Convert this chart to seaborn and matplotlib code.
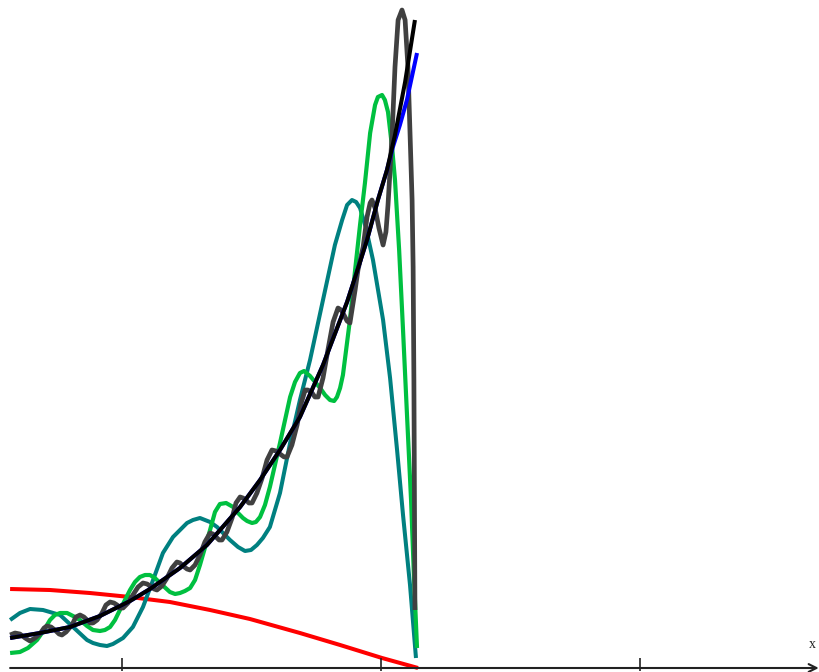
import numpy as np
import pandas as pd
import seaborn as sns
import matplotlib.pyplot as plt

# values (x in tick units, ticks at 1, 2, 3)
tick_pos = [1, 2, 3]

red_x = [0.568, 0.722, 0.876, 1.031, 1.185, 1.340, 1.494, 1.687, 1.842, 2.004, 2.143]
red_y = [0.79, 0.78, 0.75, 0.71, 0.66, 0.58, 0.49, 0.35, 0.23, 0.10, 0.00]

teal_x = [0.568, 0.606, 0.645, 0.695, 0.761, 0.811, 0.865, 0.888, 0.915, 0.942,
          0.965, 1.004, 1.042, 1.081, 1.120, 1.158, 1.197, 1.251, 1.274, 1.301,
          1.340, 1.367, 1.417, 1.448, 1.475, 1.498, 1.521, 1.544, 1.571, 1.610,
          1.649, 1.687, 1.726, 1.776, 1.822, 1.850, 1.869, 1.888, 1.904, 1.919,
          1.942, 1.969, 2.008, 2.035, 2.062, 2.085, 2.112, 2.135]
teal_y = [0.48, 0.55, 0.59, 0.58, 0.53, 0.41, 0.28, 0.25, 0.23, 0.22,
          0.24, 0.30, 0.41, 0.61, 0.88, 1.15, 1.31, 1.45, 1.48, 1.50,
          1.46, 1.41, 1.28, 1.21, 1.17, 1.18, 1.23, 1.30, 1.41, 1.75,
          2.25, 2.68, 3.08, 3.68, 4.23, 4.48, 4.63, 4.68, 4.66, 4.60,
          4.40, 4.08, 3.48, 2.90, 2.18, 1.53, 0.83, 0.10]

green_x = [0.568, 0.606, 0.637, 0.672, 0.699, 0.722, 0.741, 0.761, 0.788, 0.811,
           0.838, 0.865, 0.888, 0.915, 0.934, 0.954, 0.973, 0.992, 1.031, 1.050,
           1.069, 1.089, 1.108, 1.127, 1.147, 1.185, 1.205, 1.224, 1.243, 1.263,
           1.282, 1.301, 1.320, 1.340, 1.359, 1.378, 1.402, 1.429, 1.448, 1.467,
           1.483, 1.502, 1.517, 1.533, 1.552, 1.571, 1.610, 1.649, 1.668, 1.687,
           1.703, 1.726, 1.765, 1.784, 1.803, 1.819, 1.830, 1.842, 1.853, 1.880,
           1.900, 1.919, 1.938, 1.958, 1.977, 1.988, 2.004, 2.015, 2.027, 2.043,
           2.054, 2.070, 2.085, 2.100, 2.116, 2.127, 2.139]
green_y = [0.15, 0.16, 0.20, 0.28, 0.38, 0.48, 0.53, 0.55, 0.55, 0.52,
           0.48, 0.42, 0.38, 0.37, 0.38, 0.41, 0.48, 0.58, 0.78, 0.86,
           0.91, 0.93, 0.93, 0.90, 0.85, 0.76, 0.74, 0.75, 0.77, 0.80,
           0.88, 1.03, 1.20, 1.38, 1.56, 1.64, 1.65, 1.61, 1.55, 1.50,
           1.47, 1.45, 1.46, 1.51, 1.63, 1.81, 2.25, 2.71, 2.86, 2.95,
           2.97, 2.92, 2.80, 2.73, 2.68, 2.67, 2.71, 2.80, 2.93, 3.48,
           3.98, 4.43, 4.85, 5.35, 5.63, 5.71, 5.73, 5.68, 5.56, 5.20,
           4.88, 4.18, 3.38, 2.55, 1.68, 0.93, 0.20]

gray_x = [0.568, 0.587, 0.606, 0.626, 0.645, 0.664, 0.683, 0.699, 0.710, 0.726,
          0.741, 0.757, 0.768, 0.784, 0.807, 0.822, 0.838, 0.853, 0.865, 0.876,
          0.888, 0.904, 0.923, 0.938, 0.954, 0.969, 0.981, 0.992, 1.004, 1.023,
          1.042, 1.062, 1.081, 1.097, 1.108, 1.124, 1.135, 1.154, 1.174, 1.193,
          1.212, 1.224, 1.236, 1.251, 1.263, 1.282, 1.301, 1.320, 1.340, 1.351,
          1.363, 1.375, 1.386, 1.405, 1.425, 1.440, 1.456, 1.467, 1.479, 1.490,
          1.502, 1.521, 1.541, 1.560, 1.579, 1.595, 1.610, 1.626, 1.637, 1.656,
          1.676, 1.691, 1.707, 1.718, 1.734, 1.745, 1.757, 1.776, 1.795, 1.815,
          1.834, 1.846, 1.857, 1.869, 1.880, 1.900, 1.911, 1.931, 1.946, 1.958,
          1.965, 1.977, 1.992, 2.008, 2.019, 2.027, 2.035, 2.043, 2.054, 2.066,
          2.081, 2.093, 2.104, 2.112, 2.120, 2.124, 2.127, 2.131]
gray_y = [0.33, 0.35, 0.34, 0.30, 0.27, 0.30, 0.34, 0.40, 0.42, 0.41,
          0.38, 0.34, 0.33, 0.36, 0.43, 0.51, 0.53, 0.51, 0.48, 0.45,
          0.45, 0.48, 0.55, 0.63, 0.66, 0.65, 0.63, 0.60, 0.60, 0.65,
          0.73, 0.81, 0.85, 0.84, 0.82, 0.79, 0.78, 0.82, 0.90, 1.00,
          1.06, 1.05, 1.02, 0.99, 0.98, 1.03, 1.13, 1.26, 1.35, 1.34,
          1.31, 1.28, 1.28, 1.36, 1.50, 1.65, 1.71, 1.70, 1.68, 1.65,
          1.65, 1.75, 1.90, 2.08, 2.18, 2.17, 2.14, 2.11, 2.11, 2.23,
          2.43, 2.64, 2.78, 2.78, 2.75, 2.71, 2.71, 2.90, 3.18, 3.46,
          3.60, 3.58, 3.53, 3.47, 3.45, 3.78, 3.98, 4.21, 4.51, 4.65,
          4.68, 4.60, 4.40, 4.23, 4.36, 4.63, 4.98, 5.35, 6.01, 6.48,
          6.58, 6.48, 6.01, 5.35, 4.68, 4.01, 2.88, 0.58]

blue_x = [0.568, 0.683, 0.799, 0.915, 1.031, 1.108, 1.224, 1.328, 1.456, 1.533,
          1.610, 1.687, 1.776, 1.869, 1.919, 1.946, 1.988, 2.023, 2.046, 2.073,
          2.100, 2.139]
blue_y = [0.30, 0.35, 0.41, 0.52, 0.67, 0.79, 1.00, 1.23, 1.61, 1.88,
          2.18, 2.51, 3.03, 3.66, 4.06, 4.28, 4.68, 4.98, 5.21, 5.43,
          5.68, 6.15]

black_x = [0.568, 0.683, 0.799, 0.915, 1.031, 1.108, 1.224, 1.328, 1.456, 1.533,
           1.610, 1.687, 1.776, 1.869, 1.919, 1.946, 1.988, 2.023, 2.054, 2.093,
           2.131]
black_y = [0.30, 0.35, 0.41, 0.52, 0.67, 0.79, 1.00, 1.23, 1.61, 1.88,
           2.18, 2.51, 3.03, 3.66, 4.06, 4.28, 4.68, 4.98, 5.33, 5.86,
           6.48]

sns.set_style("white")

fig = plt.figure(figsize=(8.19, 6.72), dpi=100)
ax = fig.add_axes([0, 0, 1, 1])

series = [
    (red_x, red_y, "#ff0000", 2.9),
    (teal_x, teal_y, "#008080", 2.9),
    (green_x, green_y, "#00c040", 3.0),
    (gray_x, gray_y, "#404040", 3.4),
    (blue_x, blue_y, "#0000ff", 2.9),
    (black_x, black_y, "#000000", 2.9),
]
for xs, ys, col, lw in series:
    df = pd.DataFrame({"x": xs, "y": ys})
    sns.lineplot(data=df, x="x", y="y", ax=ax, color=col, linewidth=lw,
                 sort=False, estimator=None, solid_joinstyle="round",
                 solid_capstyle="butt")

# x axis with arrow
ax.annotate("", xy=(3.690, 0), xytext=(0.568, 0),
            arrowprops=dict(arrowstyle="->", color="#222222", lw=1.5,
                            mutation_scale=14, shrinkA=0, shrinkB=0))
ax.vlines(tick_pos, -0.03, 0.10, color="#222222", linewidth=1.2)
ax.text(3.664, 0.24, "x", fontsize=10, family="Liberation Serif",
        ha="center", va="center", color="#222222")

ax.set_xlim(0.529, 3.691)
ax.set_ylim(-0.04, 6.68)
ax.set_xlabel("")
ax.set_ylabel("")
ax.set_xticks([])
ax.set_yticks([])
for s in ax.spines.values():
    s.set_visible(False)

fig.savefig("out.png", dpi=100)
